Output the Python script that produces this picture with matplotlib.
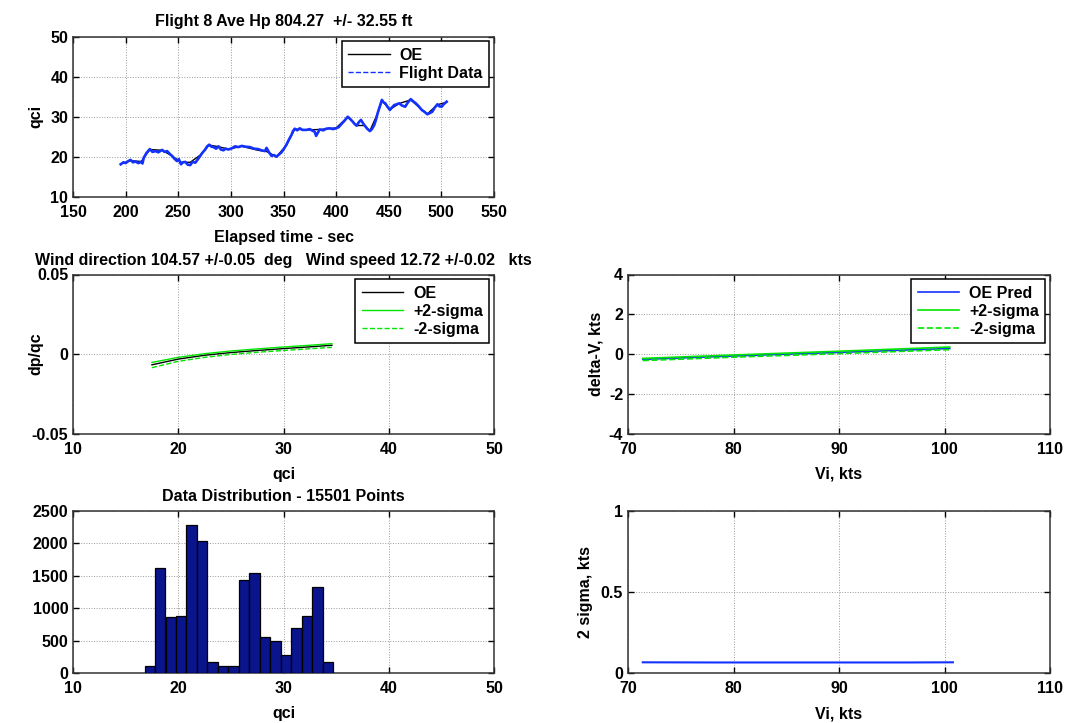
import matplotlib
matplotlib.use("Agg")
import matplotlib.pyplot as plt
from matplotlib.lines import Line2D

plt.rcParams['font.family'] = ['Liberation Sans', 'DejaVu Sans']
plt.rcParams['font.weight'] = 'bold'
plt.rcParams['font.size'] = 11.5
plt.rcParams['axes.titlesize'] = 11.5
plt.rcParams['axes.labelsize'] = 11.5
plt.rcParams['axes.labelweight'] = 'bold'
plt.rcParams['axes.titleweight'] = 'bold'
plt.rcParams['axes.unicode_minus'] = False

# top panel: qci vs elapsed time
fd_time = [195.3, 198, 200, 202.5, 204.7, 207, 209.5, 212, 214.8, 216, 217.3, 220, 223, 225.5,
           228.4, 231, 234.7, 237, 239.4, 242, 244.1, 246, 248.8, 250.5, 252.6, 254.5, 256.7,
           259, 261.4, 263.5, 266.2, 268.5, 270.9, 273, 275.6, 277.5, 279.4, 281.5, 283.5, 286,
           288.2, 290.5, 292.9, 295, 297.7, 301, 304, 307, 310.3, 314, 318.1, 322, 326, 329,
           332.3, 333.9, 336, 338.6, 341, 343.3, 346, 348.1, 350.5, 352.8, 355, 357.5, 359,
           360.7, 363, 365.4, 368, 371.7, 375, 377.5, 379.6, 381, 384.3, 388, 390.5, 393.8,
           397, 400, 402.5, 404.8, 408, 411, 413.5, 415.8, 417.5, 419.5, 421.5, 423.6, 425,
           426.8, 429.5, 432.1, 434, 436.2, 437.8, 439.4, 441.5, 443.5, 445, 446.7, 449,
           451.1, 453, 455.2, 457.5, 459.9, 462.5, 465.6, 468, 470.9, 473, 475.7, 478.5,
           481.3, 484, 486.7, 489, 491.4, 493.5, 496.2, 498, 500.3, 502.5, 505]
fd_qci = [18.1, 18.6, 18.4, 18.9, 19.2, 18.6, 18.8, 18.4, 18.7, 18.3, 19.8, 21.0, 21.9, 21.2,
          21.4, 21.1, 21.7, 21.2, 21.4, 20.7, 20.2, 19.6, 18.9, 19.4, 18.1, 18.6, 18.7, 18.0,
          17.9, 18.7, 18.5, 19.3, 20.2, 21.0, 21.8, 22.6, 23.0, 22.5, 22.4, 22.0, 22.6, 21.8,
          21.6, 22.0, 21.8, 22.1, 22.6, 22.4, 22.7, 22.5, 22.4, 22.0, 21.9, 21.6, 21.4, 22.2,
          21.2, 20.2, 20.4, 20.0, 20.6, 21.1, 22.0, 23.0, 24.2, 25.4, 26.4, 27.0, 26.6, 27.1,
          26.7, 26.7, 26.9, 26.5, 26.25, 25.2, 26.8, 26.6, 27.0, 27.1, 26.9, 27.1, 27.4, 28.1,
          29.0, 30.0, 29.4, 28.75, 28.2, 27.75, 28.6, 29.2, 28.6, 27.9, 27.0, 26.4, 26.9, 27.9,
          29.2, 30.85, 32.6, 34.2, 33.6, 33.35, 32.4, 31.7, 32.3, 32.9, 33.1, 33.35, 32.8,
          32.5, 33.5, 34.4, 33.9, 33.35, 32.6, 31.7, 31.2, 30.6, 30.9, 31.25, 32.2, 33.1,
          32.6, 32.5, 33.2, 33.75]
oe_time = [195.3, 204.7, 214.8, 223, 234.7, 244.1, 252.6, 261.4, 270.9, 279.4, 288.2, 297.7,
           310.3, 326, 333.9, 343.3, 352.8, 360.7, 371.7, 384.3, 400, 411, 419.5, 426.8, 432.1,
           439.4, 443.5, 451.1, 459.9, 470.9, 481.3, 486.7, 496.2, 505]
oe_qci = [18.2, 19.0, 18.8, 21.8, 21.6, 20.2, 18.6, 18.6, 20.4, 22.9, 22.5, 21.9, 22.6, 21.6,
          21.3, 20.0, 22.9, 26.9, 26.7, 26.8, 27.2, 29.9, 27.8, 27.8, 26.5, 30.8, 34.0, 31.8,
          33.3, 34.2, 31.8, 30.7, 33.0, 33.6]

# middle left: dp/qc vs qci
dp_qci = [17.5, 20, 22.5, 25, 27.5, 30, 32.5, 34.6]
dp_oe = [-0.0068, -0.0032, -0.0008, 0.0009, 0.0022, 0.0034, 0.0045, 0.0055]
dp_plus = [-0.0053, -0.0021, 0.0002, 0.0019, 0.0032, 0.0044, 0.0055, 0.0065]
dp_minus = [-0.0086, -0.0046, -0.0021, -0.0003, 0.0011, 0.0022, 0.0033, 0.0042]

# middle right: delta-V vs Vi
dv_vi = [71.4, 80, 90, 100.5]
dv_oe = [-0.27, -0.10, 0.08, 0.28]
dv_plus = [-0.22, -0.05, 0.14, 0.35]
dv_minus = [-0.33, -0.16, 0.02, 0.22]

# bottom left: histogram of qci
hist_centers = [17.30, 18.29, 19.29, 20.28, 21.28, 22.27, 23.27, 24.26, 25.26,
                26.25, 27.25, 28.24, 29.24, 30.23, 31.23, 32.22, 33.22, 34.21]
hist_counts = [113, 1624, 866, 876, 2289, 2041, 170, 103, 113,
               1433, 1536, 552, 500, 284, 696, 887, 1325, 170]
bin_width = 0.995

# bottom right: 2 sigma vs Vi
sig_vi = [71.4, 78.0, 96.5, 100.8]
sig_val = [0.066, 0.065, 0.065, 0.066]

BLUE = '#1432ff'
GREEN = '#00e600'

W, H = 1070, 723
fig = plt.figure(figsize=(W / 100, H / 100), dpi=100)


def make_ax(x0, y0, x1, y1):
    # pixel box -> figure fraction
    return fig.add_axes([x0 / W, 1 - y1 / H, (x1 - x0) / W, (y1 - y0) / H])


def style(ax):
    ax.grid(True, linestyle=':', color='#9a9a9a', linewidth=0.7)
    ax.tick_params(direction='in', top=True, right=True, length=4, width=1)
    ax.tick_params(axis='x', pad=6)
    ax.tick_params(axis='y', pad=3.5)
    for s in ax.spines.values():
        s.set_linewidth(1.1)
        s.set_color('#333333')


def legend(ax, handles=None, labels=None):
    kw = dict(loc='upper right', fancybox=False, edgecolor='black', framealpha=1,
              handlelength=2.6, borderaxespad=0.3, labelspacing=0.2, handletextpad=0.6,
              prop={'weight': 'bold', 'size': 11.5})
    if handles is None:
        leg = ax.legend(**kw)
    else:
        leg = ax.legend(handles, labels, **kw)
    leg.get_frame().set_linewidth(1.1)


# top
ax1 = make_ax(73, 36.7, 494, 196.7)
ax1.plot(oe_time, oe_qci, color='black', lw=1.0)
ax1.plot(fd_time, fd_qci, color=BLUE, lw=1.9)
ax1.set_xlim(150, 550)
ax1.set_ylim(10, 50)
ax1.set_xticks(range(150, 551, 50))
ax1.set_yticks(range(10, 51, 10))
ax1.set_xlabel('Elapsed time - sec', labelpad=7)
ax1.set_ylabel('qci')
ax1.yaxis.set_label_coords(-0.071, 0.5)
ax1.set_title('Flight 8 Ave Hp 804.27  +/- 32.55 ft', pad=8)
style(ax1)
legend(ax1, [Line2D([], [], color='black', lw=1.0),
             Line2D([], [], color=BLUE, lw=1.0, linestyle='--')],
       ['OE', 'Flight Data'])

# middle left
ax2 = make_ax(73, 274.5, 494, 433.5)
ax2.plot(dp_qci, dp_oe, color='black', lw=1.0, label='OE')
ax2.plot(dp_qci, dp_plus, color=GREEN, lw=1.0, label='+2-sigma')
ax2.plot(dp_qci, dp_minus, color=GREEN, lw=1.0, linestyle='--', label='-2-sigma')
ax2.set_xlim(10, 50)
ax2.set_ylim(-0.05, 0.05)
ax2.set_xticks(range(10, 51, 10))
ax2.set_yticks([-0.05, 0, 0.05])
ax2.set_yticklabels(['-0.05', '0', '0.05'])
ax2.set_xlabel('qci', labelpad=7)
ax2.set_ylabel('dp/qc')
ax2.yaxis.set_label_coords(-0.071, 0.5)
ax2.set_title('Wind direction 104.57 +/-0.05  deg   Wind speed 12.72 +/-0.02   kts', pad=7)
style(ax2)
legend(ax2)

# middle right
ax3 = make_ax(628, 274.5, 1050, 433.5)
ax3.plot(dv_vi, dv_oe, color=BLUE, lw=1.2, label='OE Pred')
ax3.plot(dv_vi, dv_plus, color=GREEN, lw=1.2, label='+2-sigma')
ax3.plot(dv_vi, dv_minus, color=GREEN, lw=1.2, linestyle='--', label='-2-sigma')
ax3.set_xlim(70, 110)
ax3.set_ylim(-4, 4)
ax3.set_xticks(range(70, 111, 10))
ax3.set_yticks(range(-4, 5, 2))
ax3.set_xlabel('Vi, kts', labelpad=7)
ax3.set_ylabel('delta-V, kts')
ax3.yaxis.set_label_coords(-0.057, 0.5)
style(ax3)
legend(ax3)

# bottom left
ax4 = make_ax(73, 511, 494, 673)
ax4.bar(hist_centers, hist_counts, width=bin_width, color='#0a148c', edgecolor='black',
        linewidth=0.9, zorder=3)
ax4.set_xlim(10, 50)
ax4.set_ylim(0, 2500)
ax4.set_xticks(range(10, 51, 10))
ax4.set_yticks(range(0, 2501, 500))
ax4.set_xlabel('qci', labelpad=7)
ax4.set_title('Data Distribution - 15501 Points', pad=7)
style(ax4)

# bottom right
ax5 = make_ax(628, 511, 1050, 673)
ax5.plot(sig_vi, sig_val, color=BLUE, lw=1.5)
ax5.set_xlim(70, 110)
ax5.set_ylim(0, 1)
ax5.set_xticks(range(70, 111, 10))
ax5.set_yticks([0, 0.5, 1])
ax5.set_yticklabels(['0', '0.5', '1'])
ax5.set_xlabel('Vi, kts', labelpad=7)
ax5.set_ylabel('2 sigma, kts')
ax5.yaxis.set_label_coords(-0.083, 0.5)
style(ax5)

fig.savefig('out.png', dpi=100)
